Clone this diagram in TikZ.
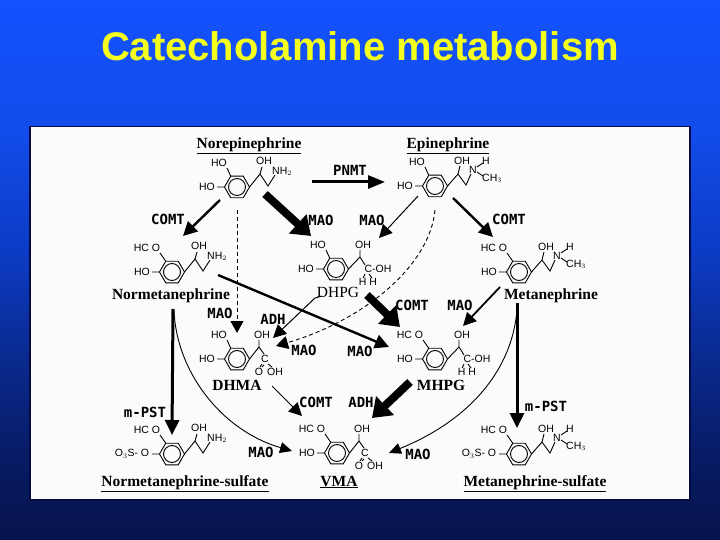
\documentclass[tikz,border=0pt]{standalone}
\usepackage{fontspec}
\setmainfont{Liberation Sans}
\newfontfamily\serifname{Liberation Serif}
\newfontfamily\monolabel{DejaVu Sans Mono}
\usetikzlibrary{arrows.meta}
\definecolor{panelfill}{HTML}{FBFBFB}
\definecolor{titleyellow}{HTML}{F4FF1E}
\definecolor{panelline}{HTML}{060A40}
\pgfdeclareverticalshading{bgshade}{100bp}{
  rgb(0bp)=(0.02,0.07,0.29);
  rgb(25bp)=(0.02,0.07,0.29);
  rgb(33bp)=(0.03,0.11,0.40);
  rgb(42bp)=(0.04,0.165,0.56);
  rgb(52bp)=(0.047,0.235,0.78);
  rgb(63bp)=(0.07,0.3,0.92);
  rgb(75bp)=(0.08,0.32,1);
  rgb(100bp)=(0.08,0.32,1)}
\tikzset{
  x=1pt,y=-1pt,
  bondline/.style={line width=0.9pt,black},
  chem/.style={inner sep=0pt,font=\fontsize{10.5}{10.5}\selectfont,black},
  enzyme/.style={inner sep=0pt,font=\monolabel\bfseries\fontsize{14}{14}\selectfont,black},
  cname/.style={inner sep=0pt,font=\serifname\bfseries\fontsize{15.5}{16}\selectfont,black},
  thinarrow/.style={line width=1pt,-{Triangle[length=13pt,width=13pt]}},
  medarrow/.style={line width=2.4pt,-{Triangle[length=14pt,width=14pt]}},
  vertarrow/.style={line width=3pt,-{Triangle[length=15pt,width=14pt]}},
  heavyarrow/.style={line width=8pt,-{Triangle[length=18pt,width=25pt]}},
  dasharrow/.style={line width=0.9pt,dash pattern=on 4pt off 3pt,-{Triangle[length=12pt,width=13pt]}},
  curvearrow/.style={line width=0.9pt,-{Triangle[length=12pt,width=11pt]}}
}
\newcommand{\benz}[3]{\begin{scope}[shift={(#2,#3)}]
  \draw[bondline] (-12.5,0)--(-6.25,-10.8)--(6.25,-10.8)--(12.5,0)--(6.25,10.8)--(-6.25,10.8)--cycle;
  \draw[bondline] (0,0) circle (8.5pt);
\end{scope}}
\newcommand{\dihydroxy}[3]{\begin{scope}[shift={(#2,#3)}]
  \draw[bondline] (-12.5,0)--(-20,0) (-6.25,-10.8)--(-10,-19);
  \node[chem] (#1-a) at (-30,0) {HO};
  \node[chem] (#1-b) at (-18,-24.5) {HO};
\end{scope}}
\newcommand{\methoxy}[3]{\begin{scope}[shift={(#2,#3)}]
  \draw[bondline] (-12.5,0)--(-20,0) (-6.25,-10.8)--(-12,-19);
  \node[chem] (#1-a) at (-30,0) {HO};
  \node[chem] (#1-b) at (-25,-24) {HC O};
\end{scope}}
\newcommand{\sulfo}[3]{\begin{scope}[shift={(#2,#3)}]
  \draw[bondline] (-12.5,0)--(-20,0) (-6.25,-10.8)--(-12,-19);
  \node[chem] (#1-a) at (-40,0) {O$_3$S- O};
  \node[chem] (#1-b) at (-25,-24) {HC O};
\end{scope}}
\newcommand{\aminechain}[3]{\begin{scope}[shift={(#2,#3)}]
  \draw[bondline] (12.5,0)--(23,-13)--(31,-1)--(38,-12) (23,-13)--(25,-20);
  \node[chem] (#1-c) at (27,-26) {OH};
  \node[chem] (#1-d) at (45,-15.5) {NH$_2$};
\end{scope}}
\newcommand{\methylchain}[3]{\begin{scope}[shift={(#2,#3)}]
  \draw[bondline] (12.5,0)--(23,-12)--(31,-1)--(36,-12) (23,-12)--(25,-20)
     (42,-19)--(48,-23) (42,-14)--(48,-10);
  \node[chem] (#1-c) at (27,-25.5) {OH};
  \node[chem] (#1-d) at (38,-16) {N};
  \node[chem] (#1-e) at (51,-25.5) {H};
  \node[chem] (#1-f) at (57,-7.5) {CH$_3$};
\end{scope}}
\newcommand{\glycolchain}[3]{\begin{scope}[shift={(#2,#3)}]
  \draw[bondline] (12.5,0)--(24,-12)--(29,-4) (24,-12)--(24,-19)
     (29,5)--(27,9) (33,5)--(36,9);
  \node[chem] (#1-c) at (27,-24.5) {OH};
  \node[chem] (#1-d) at (42,0) {C-OH};
  \node[chem] (#1-e) at (32,13) {H H};
\end{scope}}
\newcommand{\acidchain}[3]{\begin{scope}[shift={(#2,#3)}]
  \draw[bondline] (12.5,0)--(22,-12)--(27,-5) (22,-12)--(22,-19)
     (25,5)--(23,8) (27,6)--(25,8) (31,5)--(35,8);
  \node[chem] (#1-c) at (25,-24.5) {OH};
  \node[chem] (#1-d) at (28,0) {C};
  \node[chem] (#1-e) at (22,12.5) {O};
  \node[chem] (#1-f) at (38,12.5) {OH};
\end{scope}}
\begin{document}
\begin{tikzpicture}
\useasboundingbox (0,0) rectangle (720,540);
\shade[shading=bgshade] (0,0) rectangle (720,540);
\node[inner sep=0pt,text=titleyellow,font=\bfseries\fontsize{40}{40}\selectfont] (title) at (360,46) {Catecholamine metabolism};
\draw[fill=panelfill,draw=panelline,line width=1.4pt] (30,126.5) rectangle (690,500);

\benz{ne}{237}{187}\dihydroxy{ne}{237}{187}\aminechain{ne}{237}{187}
\benz{epi}{435}{186}\dihydroxy{epi}{435}{186}\methylchain{epi}{435}{186}
\benz{nm}{172}{272}\methoxy{nm}{172}{272}\aminechain{nm}{172}{272}
\benz{dhpg}{336}{269}\dihydroxy{dhpg}{336}{269}\glycolchain{dhpg}{336}{269}
\benz{mn}{519}{272}\methoxy{mn}{519}{272}\methylchain{mn}{519}{272}
\benz{dhma}{237}{359}\dihydroxy{dhma}{237}{359}\acidchain{dhma}{237}{359}
\benz{mhpg}{435}{359}\methoxy{mhpg}{435}{359}\glycolchain{mhpg}{435}{359}
\benz{nms}{172}{454}\sulfo{nms}{172}{454}\aminechain{nms}{172}{454}
\benz{vma}{337}{453}\methoxy{vma}{337}{453}\acidchain{vma}{337}{453}
\benz{mns}{519}{454}\sulfo{mns}{519}{454}\methylchain{mns}{519}{454}

\node[cname] (nNE) at (249,145.5) {\underline{Norepinephrine}};
\node[cname] (nEPI) at (448,145.5) {\underline{Epinephrine}};
\node[cname] (nNM) at (171,296) {Normetanephrine};
\node[cname] (nMN) at (551,296) {Metanephrine};
\node[cname,font=\serifname\fontsize{15.5}{16}\selectfont] (nDHPG) at (338,292) {DHPG};
\node[cname] (nDHMA) at (237,385) {DHMA};
\node[cname] (nMHPG) at (441,385) {MHPG};
\node[cname] (nNMS) at (185,483.5) {\underline{Normetanephrine-sulfate}};
\node[cname] (nVMA) at (339,482) {\underline{VMA}};
\node[cname] (nMNS) at (535,483.5) {\underline{Metanephrine-sulfate}};

\node[enzyme] (e1) at (350,170) {PNMT};
\node[enzyme] (e2) at (168,219) {COMT};
\node[enzyme] (e3) at (321,220) {MAO};
\node[enzyme] (e4) at (372,220) {MAO};
\node[enzyme] (e5) at (509,219) {COMT};
\node[enzyme] (e6) at (220,313) {MAO};
\node[enzyme] (e7) at (273,319) {ADH};
\node[enzyme] (e8) at (304,350) {MAO};
\node[enzyme] (e9) at (360,351) {MAO};
\node[enzyme] (e10) at (412,305) {COMT};
\node[enzyme] (e11) at (460,305) {MAO};
\node[enzyme] (e12) at (316,402) {COMT};
\node[enzyme] (e13) at (361,402) {ADH};
\node[enzyme] (e14) at (145,412) {m-PST};
\node[enzyme] (e15) at (546,406) {m-PST};
\node[enzyme] (e16) at (261,452) {MAO};
\node[enzyme] (e17) at (418,454) {MAO};

\coordinate (a1s) at (312,182);  \coordinate (a1e) at (385,182);
\coordinate (a2s) at (220,200);  \coordinate (a2e) at (183,236);
\coordinate (a3s) at (265,194);  \coordinate (a3e) at (311,236);
\coordinate (a4s) at (237,210);  \coordinate (a4e) at (237,333);
\coordinate (a5s) at (218,275);  \coordinate (a5e) at (389,347);
\coordinate (a6s) at (322,296);  \coordinate (a6m) at (315,298); \coordinate (a6e) at (273,338);
\coordinate (a7s) at (418,196);  \coordinate (a7e) at (379,238);
\coordinate (a8s) at (453,198);  \coordinate (a8e) at (493,237);
\coordinate (a9s) at (435,210);  \coordinate (a9e) at (276,346);
\coordinate (a10s) at (367,295); \coordinate (a10e) at (400,327);
\coordinate (a11s) at (500,287); \coordinate (a11e) at (463,326);
\coordinate (a12s) at (173,309); \coordinate (a12e) at (172,435);
\coordinate (a13s) at (517,303); \coordinate (a13e) at (517,428);
\coordinate (a14s) at (174,310); \coordinate (a14e) at (292,451);
\coordinate (a15s) at (517,310); \coordinate (a15e) at (389,453);
\coordinate (a16s) at (272,386); \coordinate (a16e) at (302,416);
\coordinate (a17s) at (410,382); \coordinate (a17e) at (372,418);

\draw[line width=3pt,-{Triangle[length=17pt,width=13pt]}] (a1s) -- (a1e);
\draw[medarrow] (a2s) -- (a2e);
\draw[heavyarrow] (a3s) -- (a3e);
\draw[dasharrow] (a4s) -- (a4e);
\draw[medarrow] (a5s) -- (a5e);
\draw[thinarrow] (a6s) -- (a6m) -- (a6e);
\draw[thinarrow] (a7s) -- (a7e);
\draw[medarrow] (a8s) -- (a8e);
\draw[dasharrow] (a9s) .. controls (430,265) and (365,320) .. (a9e);
\draw[heavyarrow] (a10s) -- (a10e);
\draw[line width=1.8pt,-{Triangle[length=13pt,width=13pt]}] (a11s) -- (a11e);
\draw[vertarrow] (a12s) -- (a12e);
\draw[vertarrow] (a13s) -- (a13e);
\draw[curvearrow] (a14s) .. controls (176,370) and (220,430) .. (a14e);
\draw[curvearrow] (a15s) .. controls (512,370) and (470,420) .. (a15e);
\draw[thinarrow] (a16s) -- (a16e);
\draw[heavyarrow] (a17s) -- (a17e);
\end{tikzpicture}
\end{document}
